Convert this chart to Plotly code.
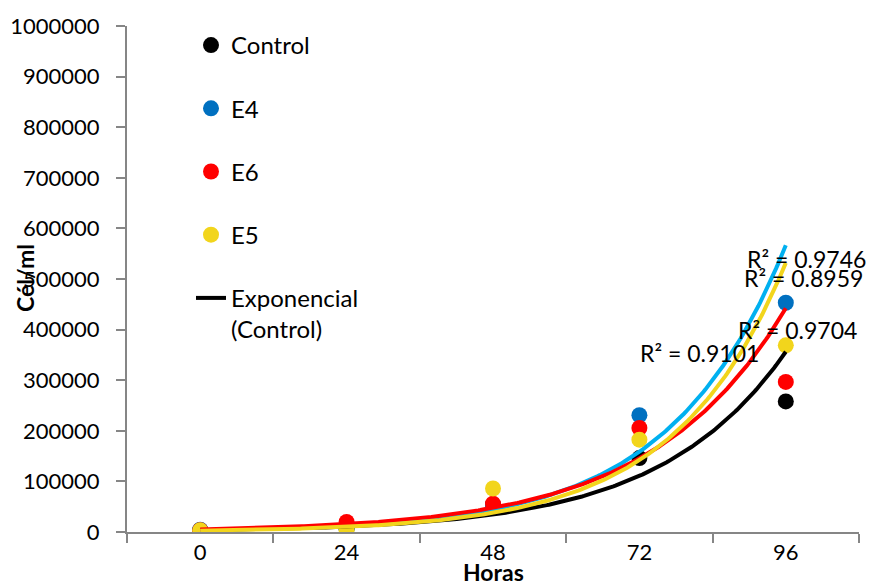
import numpy as np
import plotly.graph_objects as go

horas = [0, 24, 48, 72, 96]
control = [3450, 7000, 54000, 146000, 258000]
e4 = [4400, 7200, 52000, 230700, 453000]
e6 = [3650, 20000, 56000, 205500, 296600]
e5 = [3380, 4000, 86000, 182500, 369000]

series_names = ["Control", "E4", "E6", "E5"]
series_values = [control, e4, e6, e5]
marker_colors = ["#000000", "#0070C0", "#FF0000", "#F2D51C"]
trend_colors = ["#000000", "#00B0F0", "#FF0000", "#F2D51C"]
r2_labels = ["R² = 0.9101", "R² = 0.9746", "R² = 0.9704", "R² = 0.8959"]
r2_pos = [(699, 353), (806, 259), (797, 330), (803, 278)]  # pixel centres

W, H = 869, 583
ML, MR, MT, MB = 127, 10, 26, 51
PW, PH = W - ML - MR, H - MT - MB

FONT = "Lato"

fig = go.Figure()

for name, vals, col in zip(series_names, series_values, marker_colors):
    fig.add_trace(go.Scatter(
        x=horas, y=vals, mode="markers", name=name,
        legendgroup=name,
        marker=dict(color=col, size=16, line=dict(width=0)),
    ))

xs = np.linspace(0, 96, 300)
for i, (name, vals, col) in enumerate(zip(series_names, series_values, trend_colors)):
    b, lna = np.polyfit(np.array(horas, float), np.log(np.array(vals, float)), 1)
    ys = np.exp(lna + b * xs)
    fig.add_trace(go.Scatter(
        x=xs, y=ys, mode="lines",
        name="Exponencial<br>(Control)" if i == 0 else "Exponencial (" + name + ")",
        legendgroup="trend_" + name,
        showlegend=(i == 0),
        line=dict(color=col, width=4),
        hoverinfo="skip",
    ))

annotations = []
for txt, (px, py) in zip(r2_labels, r2_pos):
    annotations.append(dict(
        text=txt, xref="paper", yref="paper",
        x=(px - ML) / PW, y=(H - MB - py) / PH,
        xanchor="center", yanchor="middle", showarrow=False,
        font=dict(family=FONT, size=23, color="#000000"),
    ))

annotations.append(dict(
    text="<b>Cél/ml</b>", xref="paper", yref="paper",
    x=(25 - ML) / PW, y=(H - MB - 278) / PH, textangle=-90,
    xanchor="center", yanchor="middle", showarrow=False,
    font=dict(family=FONT, size=23, color="#000000"),
))
annotations.append(dict(
    text="<b>Horas</b>", xref="paper", yref="paper",
    x=0.5, y=(H - MB - 572) / PH,
    xanchor="center", yanchor="middle", showarrow=False,
    font=dict(family=FONT, size=23, color="#000000"),
))

axis_grey = "#868686"

fig.update_layout(
    width=W, height=H,
    margin=dict(l=ML, r=MR, t=MT, b=MB, autoexpand=False),
    paper_bgcolor="white", plot_bgcolor="white",
    font=dict(family=FONT, size=22, color="#000000"),
    showlegend=True,
    legend=dict(
        x=(191 - ML) / PW, y=(H - MB - 23) / PH,
        xanchor="left", yanchor="top",
        bgcolor="rgba(0,0,0,0)",
        font=dict(family=FONT, size=24, color="#000000"),
        tracegroupgap=29, valign="top",
        traceorder="grouped",
        maxheight=600,
    ),
    annotations=annotations,
    xaxis=dict(
        range=[-12, 108], tickmode="linear", tick0=0, dtick=24,
        ticks="", ticklen=0, showgrid=False, zeroline=False,
        showline=True, linecolor=axis_grey, linewidth=2,
        tickfont=dict(family=FONT, size=22, color="#000000"),
        ticklabelstandoff=0,
        minor=dict(tickmode="linear", tick0=12, dtick=24, ticks="outside",
                   ticklen=9, tickcolor=axis_grey, tickwidth=2, showgrid=False),
    ),
    yaxis=dict(
        range=[0, 1000000], tickmode="linear", tick0=0, dtick=100000,
        tickformat="d", ticks="outside", ticklen=9, tickcolor=axis_grey,
        tickwidth=2, showgrid=False, zeroline=False,
        showline=True, linecolor=axis_grey, linewidth=2,
        tickfont=dict(family=FONT, size=22, color="#000000"),
        ticklabelstandoff=12,
    ),
)

fig.write_html(
    "out.html",
    config={"displayModeBar": False},
    post_script="document.body.style.margin='0';document.body.style.overflow='hidden';",
)
